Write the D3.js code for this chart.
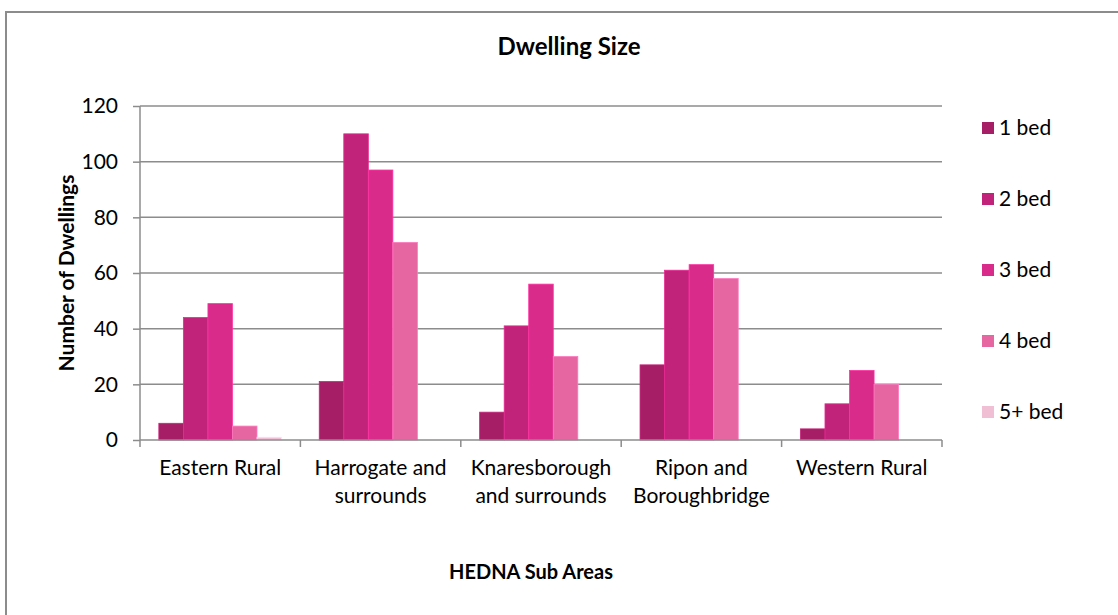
<!DOCTYPE html>
<meta charset="utf-8">
<html>
<head>
<title>Dwelling Size</title>
<script src="https://d3js.org/d3.v7.min.js"></script>
<style>
  body { margin: 0; background: #fff; }
  text { font-family: "Lato", "Open Sans", sans-serif; fill: #000; }
  .grid line { stroke: #8c8c8c; stroke-width: 1.5px; }
  .axis path, .axis line { stroke: #8c8c8c; stroke-width: 1.5px; }
</style>
</head>
<body>
<svg width="1118" height="615"></svg>
<script>
// ---------------- data ----------------
var areas = [["Eastern Rural"], ["Harrogate and", "surrounds"], ["Knaresborough", "and surrounds"], ["Ripon and", "Boroughbridge"], ["Western Rural"]];
var beds = ["1 bed", "2 bed", "3 bed", "4 bed", "5+ bed"];
var oneBed  = [6, 21, 10, 27, 4];
var twoBed  = [44, 110, 41, 61, 13];
var threeBed = [49, 97, 56, 63, 25];
var fourBed = [5, 71, 30, 58, 20];
var fiveBed = [1, 0, 0, 0, 0];
var yTicks = [0, 20, 40, 60, 80, 100, 120];
var colors = ["#a61e66", "#c2237a", "#d92b89", "#e566a0", "#f0bfd4"];

var series = [oneBed, twoBed, threeBed, fourBed, fiveBed];

var svg = d3.select("svg");
var margin = {left: 140, right: 176, top: 106, bottom: 175};
var width = 1118 - margin.left - margin.right,
    height = 615 - margin.top - margin.bottom;

// outer chart frame
svg.append("rect").attr("x", 6).attr("y", 12).attr("width", 1130).attr("height", 620)
  .attr("fill", "none").attr("stroke", "#8c8c8c").attr("stroke-width", 2);

var g = svg.append("g").attr("transform", "translate(" + margin.left + "," + margin.top + ")");

var x0 = d3.scaleBand().domain(d3.range(areas.length)).range([0, width]).padding(0);
var barW = x0.bandwidth() * 0.153;
var x1 = d3.scaleBand().domain(d3.range(beds.length))
  .range([(x0.bandwidth() - barW * 5) / 2, (x0.bandwidth() + barW * 5) / 2]);
var y = d3.scaleLinear().domain([0, 120]).range([height, 0]);

// gridlines
g.append("g").attr("class", "grid").selectAll("line")
  .data(yTicks.slice(1)).enter().append("line")
  .attr("x1", 0).attr("x2", width)
  .attr("y1", function(d) { return y(d); }).attr("y2", function(d) { return y(d); });

// bars
areas.forEach(function(a, i) {
  var grp = g.append("g").attr("transform", "translate(" + x0(i) + ",0)");
  series.forEach(function(s, k) {
    if (s[i] <= 0) return;
    grp.append("rect")
      .attr("x", x1(k)).attr("y", y(s[i]))
      .attr("width", x1.bandwidth()).attr("height", height - y(s[i]))
      .attr("fill", colors[k])
      .attr("stroke", d3.color(colors[k]).brighter(0.5)).attr("stroke-width", 0.8);
  });
});

// y axis
var yAxis = g.append("g").attr("class", "axis")
  .call(d3.axisLeft(y).tickValues(yTicks).tickSize(7).tickPadding(15));
yAxis.select(".domain").attr("d", "M0,0V" + height);
yAxis.selectAll("text").style("font-size", "21px").attr("fill", "#000");

// x axis
var xAxis = g.append("g").attr("class", "axis").attr("transform", "translate(0," + height + ")");
xAxis.append("line").attr("x1", 0).attr("x2", width).attr("y1", 0).attr("y2", 0);
xAxis.selectAll(".tk").data(d3.range(areas.length + 1)).enter().append("line")
  .attr("x1", function(d) { return d * x0.step(); }).attr("x2", function(d) { return d * x0.step(); })
  .attr("y1", 0).attr("y2", 7);
xAxis.selectAll(".lbl").data(areas).enter().append("text")
  .attr("text-anchor", "middle").style("font-size", "21px")
  .attr("x", function(d, i) { return x0(i) + x0.bandwidth() / 2; })
  .each(function(d) {
    var t = d3.select(this);
    d.forEach(function(line, j) {
      t.append("tspan").attr("x", t.attr("x")).attr("y", 35 + j * 28).text(line);
    });
  });

// titles
svg.append("text").attr("x", 569).attr("y", 55).attr("text-anchor", "middle")
  .style("font-size", "24px").style("font-weight", "bold").text("Dwelling Size");
svg.append("text").attr("x", 531).attr("y", 579).attr("text-anchor", "middle")
  .style("font-size", "20px").style("font-weight", "bold").text("HEDNA Sub Areas");
svg.append("text").attr("transform", "translate(74,273) rotate(-90)").attr("text-anchor", "middle")
  .style("font-size", "21px").style("font-weight", "bold").text("Number of Dwellings");

// legend
var legend = svg.append("g").selectAll("g").data(beds).enter().append("g")
  .attr("transform", function(d, i) { return "translate(982," + (128 + i * 71) + ")"; });
legend.append("rect").attr("x", 0).attr("y", -6).attr("width", 12).attr("height", 12)
  .attr("fill", function(d, i) { return colors[i]; });
legend.append("text").attr("x", 17).attr("y", 7).style("font-size", "21px").text(function(d) { return d; });
</script>
</body>
</html>
